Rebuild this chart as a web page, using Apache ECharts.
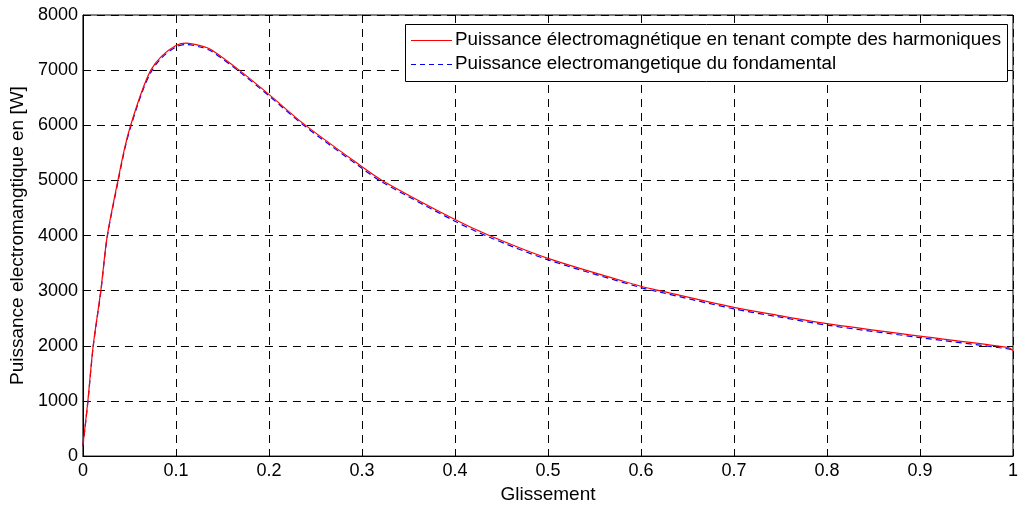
<!DOCTYPE html>
<html>
<head>
<meta charset="utf-8">
<script src="https://cdn.jsdelivr.net/npm/echarts@6/dist/echarts.min.js"></script>
<style>
html,body{margin:0;padding:0;background:#fff;}
#chart{width:1021px;height:509px;}
</style>
</head>
<body>
<div id="chart"></div>
<script>
// Glissement (slip) values and power readings
const slipRed = [0, 0.0053, 0.011, 0.0192, 0.026, 0.0376, 0.045, 0.0513, 0.063, 0.073, 0.0844, 0.1, 0.111, 0.127, 0.138, 0.168, 0.2, 0.237, 0.3, 0.3216, 0.4, 0.437, 0.5, 0.6, 0.6186, 0.7, 0.747, 0.8, 0.9, 0.995, 1.0];
const powerRed = [200, 1000, 2000, 3000, 3980, 5000, 5600, 6000, 6600, 7000, 7250, 7447, 7490, 7440, 7370, 7000, 6560, 6030, 5249, 5000, 4290, 4000, 3586, 3080, 3005, 2697, 2553, 2402, 2175, 1970, 1910];

const slipBlue = [0, 0.0053, 0.011, 0.0192, 0.026, 0.0376, 0.045, 0.0513, 0.063, 0.073, 0.0844, 0.1, 0.111, 0.127, 0.138, 0.168, 0.2, 0.237, 0.3, 0.3216, 0.4, 0.437, 0.5, 0.6, 0.6186, 0.7, 0.747, 0.8, 0.9, 0.995, 1.0];
const powerBlue = [180, 980, 1980, 2980, 3960, 4970, 5570, 5970, 6570, 6960, 7220, 7420, 7465, 7415, 7345, 6975, 6535, 6005, 5220, 4970, 4260, 3970, 3560, 3055, 2980, 2670, 2528, 2375, 2150, 1945, 1930];

const xTicks = [0, 0.1, 0.2, 0.3, 0.4, 0.5, 0.6, 0.7, 0.8, 0.9, 1];
const yTicks = [0, 1000, 2000, 3000, 4000, 5000, 6000, 7000, 8000];

const seriesNames = ['Puissance électromagnétique en tenant compte des harmoniques', 'Puissance electromangetique du fondamental'];

const FONT = 'Liberation Sans, Arial, Helvetica, sans-serif';

const chart = echarts.init(document.getElementById('chart'), null, {renderer: 'canvas'});
chart.setOption({
  animation: false,
  backgroundColor: '#fff',
  grid: {left: 81, right: 4, top: 15, bottom: 50, show: true, borderColor: '#000', borderWidth: 1, backgroundColor: 'transparent'},
  xAxis: {
    type: 'value',
    min: 0, max: 1, interval: 0.1,
    name: 'Glissement',
    nameLocation: 'middle',
    nameGap: 25,
    nameTextStyle: {fontFamily: FONT, fontSize: 19, color: '#000'},
    axisLine: {show: true, lineStyle: {color: '#000', width: 1}},
    axisTick: {show: true, inside: true, length: 5, lineStyle: {color: '#000'}},
    axisLabel: {fontFamily: FONT, fontSize: 18, color: '#000', margin: 6,
      formatter: v => { const t = xTicks.find(x => Math.abs(x - v) < 1e-9); return t === undefined ? '' : String(t); }},
    splitLine: {show: true, lineStyle: {color: '#000', type: [8, 6], width: 1}}
  },
  yAxis: {
    type: 'value',
    min: 0, max: 8000, interval: 1000,
    name: 'Puissance electromangtique en [W]',
    nameLocation: 'middle',
    nameGap: 54,
    nameTextStyle: {fontFamily: FONT, fontSize: 19, color: '#000'},
    axisLine: {show: true, lineStyle: {color: '#000', width: 1}},
    axisTick: {show: true, inside: true, length: 5, lineStyle: {color: '#000'}},
    axisLabel: {fontFamily: FONT, fontSize: 18, color: '#000', margin: 5,
      formatter: v => yTicks.includes(v) ? String(v) : ''},
    splitLine: {show: true, lineStyle: {color: '#000', type: [8, 6], width: 1}}
  },
  graphic: [
    {type: 'rect', z: 100, shape: {x: 405.5, y: 24.5, width: 602, height: 57},
      style: {fill: '#fff', stroke: '#000', lineWidth: 1}},
    {type: 'line', z: 101, shape: {x1: 411, y1: 40.5, x2: 452, y2: 40.5},
      style: {stroke: '#ff0000', lineWidth: 1}},
    {type: 'line', z: 101, shape: {x1: 411, y1: 64.5, x2: 452, y2: 64.5},
      style: {stroke: '#0000ff', lineWidth: 1, lineDash: [5, 4]}},
    {type: 'text', z: 101, x: 455, y: 40,
      style: {text: seriesNames[0], font: '18.8px ' + FONT, fill: '#000', textVerticalAlign: 'middle', verticalAlign: 'middle'}},
    {type: 'text', z: 101, x: 455, y: 64,
      style: {text: seriesNames[1], font: '18.8px ' + FONT, fill: '#000', textVerticalAlign: 'middle', verticalAlign: 'middle'}}
  ],
  series: [
    {
      name: seriesNames[0],
      type: 'line',
      data: slipRed.map((s, i) => [s, powerRed[i]]),
      showSymbol: false,
      smooth: 0.3,
      lineStyle: {color: '#ff0000', width: 1.2},
      itemStyle: {color: '#ff0000'},
      z: 3
    },
    {
      name: seriesNames[1],
      type: 'line',
      data: slipBlue.map((s, i) => [s, powerBlue[i]]),
      showSymbol: false,
      smooth: 0.3,
      lineStyle: {color: '#0000ff', width: 1.2, type: [6, 4]},
      itemStyle: {color: '#0000ff'},
      z: 2
    }
  ]
});
</script>
</body>
</html>
